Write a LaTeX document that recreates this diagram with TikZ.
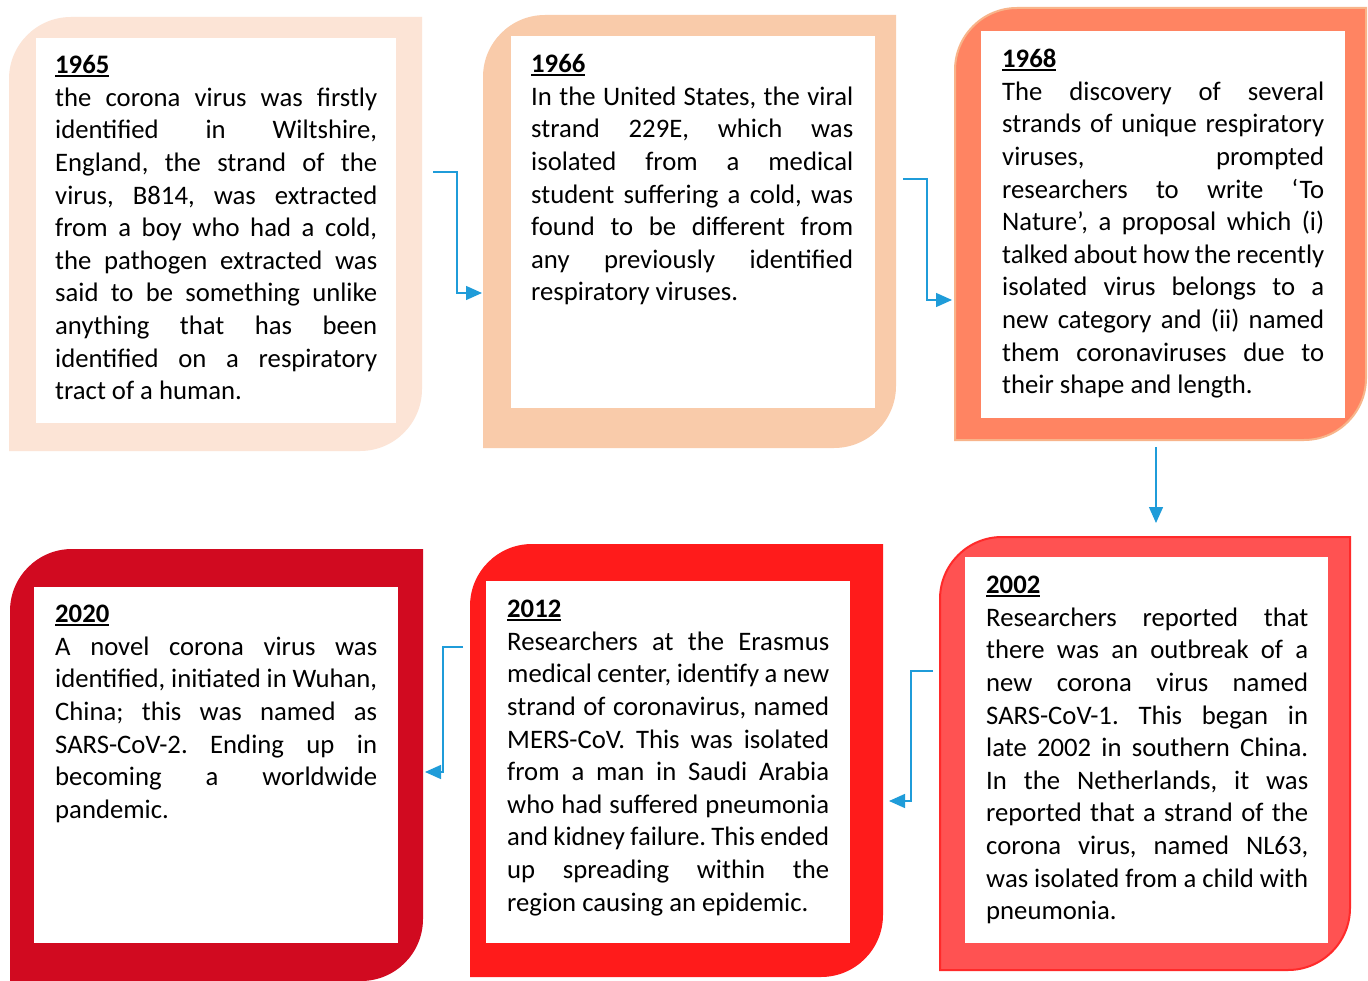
\documentclass[tikz,border=0pt]{standalone}
\usepackage{fontspec}
\setmainfont{Carlito}
\usetikzlibrary{arrows.meta}
\definecolor{cA}{HTML}{FCE4D6}
\definecolor{cB}{HTML}{F9CBAA}
\definecolor{cC}{HTML}{FF8462}
\definecolor{cCl}{HTML}{F8B48A}
\definecolor{cD}{HTML}{FF5252}
\definecolor{cDl}{HTML}{FF2A2A}
\definecolor{cE}{HTML}{FF1B1B}
\definecolor{cF}{HTML}{D10A20}
\definecolor{arrc}{HTML}{1F9CD9}
\newcommand\tlbox[5]{%
  \path[#5] (#1,#4) -- (#1,#2+62) arc[start angle=180,end angle=270,radius=62]
    -- (#3,#2) -- (#3,#4-62) arc[start angle=0,end angle=90,radius=62] -- cycle;}
\newcommand\jl[1]{\makebox[322pt][s]{#1}}
\newcommand\yr[1]{\setbox0\hbox{\bfseries #1}\rlap{\rule[-3.6pt]{\wd0}{1.8pt}}\box0}
\frenchspacing
\tikzset{
  txt/.style={anchor=north west, inner sep=0pt, align=left, font=\fontsize{26.7}{32.6}\selectfont\frenchspacing},
  arr/.style={draw=arrc, line width=1.4pt, -{Triangle[length=16pt,width=14pt]}},
  inner/.style={fill=white}
}
\begin{document}
\begin{tikzpicture}[x=1pt,y=-1pt]
\useasboundingbox[fill=white] (0,0) rectangle (1368,981);
% frames
\tlbox{9}{17}{422}{451}{fill=cA}
\fill[inner] (36,38) rectangle (396,423);
\tlbox{483}{15}{896}{448}{fill=cB}
\fill[inner] (511,36) rectangle (875,408);
\tlbox{955}{8}{1366}{440}{fill=cC, draw=cCl, line width=2pt}
\fill[inner] (981,31) rectangle (1345,418);
\tlbox{940}{537}{1350}{970}{fill=cD, draw=cDl, line width=2pt}
\fill[inner] (965,557) rectangle (1328,943);
\tlbox{470}{544}{883}{977}{fill=cE}
\fill[inner] (486,581) rectangle (850,943);
\tlbox{10}{549}{423}{981}{fill=cF}
\fill[inner] (34,587) rectangle (398,943);
% texts
\node[txt] (t1) at (55,50.6) {\strut\yr{1965}\\
\jl{the corona virus was firstly}\\
\jl{identified in Wiltshire,}\\
\jl{England, the strand of the}\\
\jl{virus, B814, was extracted}\\
\jl{from a boy who had a cold,}\\
\jl{the pathogen extracted was}\\
\jl{said to be something unlike}\\
\jl{anything that has been}\\
\jl{identified on a respiratory}\\
tract of a human.};
\node[txt] (t2) at (531,49.6) {\strut\yr{1966}\\
\jl{In the United States, the viral}\\
\jl{strand 229E, which was}\\
\jl{isolated from a medical}\\
\jl{student suffering a cold, was}\\
\jl{found to be different from}\\
\jl{any previously identified}\\
respiratory viruses.};
\node[txt] (t3) at (1002,44.6) {\strut\yr{1968}\\
\jl{The discovery of several}\\
\jl{strands of unique respiratory}\\
\jl{viruses, prompted}\\
\jl{researchers to write ‘To}\\
\jl{Nature’, a proposal which (i)}\\
\jl{talked about how the recently}\\
\jl{isolated virus belongs to a}\\
\jl{new category and (ii) named}\\
\jl{them coronaviruses due to}\\
their shape and length.};
\node[txt] (t4) at (986,570.6) {\strut\yr{2002}\\
\jl{Researchers reported that}\\
\jl{there was an outbreak of a}\\
\jl{new corona virus named}\\
\jl{SARS-CoV-1. This began in}\\
\jl{late 2002 in southern China.}\\
\jl{In the Netherlands, it was}\\
\jl{reported that a strand of the}\\
\jl{corona virus, named NL63,}\\
\jl{was isolated from a child with}\\
pneumonia.};
\node[txt] (t5) at (507,594.6) {\strut\yr{2012}\\
\jl{Researchers at the Erasmus}\\
\jl{medical center, identify a new}\\
\jl{strand of coronavirus, named}\\
\jl{MERS-CoV. This was isolated}\\
\jl{from a man in Saudi Arabia}\\
\jl{who had suffered pneumonia}\\
\jl{and kidney failure. This ended}\\
\jl{up spreading within the}\\
region causing an epidemic.};
\node[txt] (t6) at (55,599.6) {\strut\yr{2020}\\
\jl{A novel corona virus was}\\
\jl{identified, initiated in Wuhan,}\\
\jl{China; this was named as}\\
\jl{SARS-CoV-2. Ending up in}\\
\jl{becoming a worldwide}\\
pandemic.};
% connectors
\coordinate (a1s) at (433,172); \coordinate (a1e) at (482,293);
\coordinate (a2s) at (903,179); \coordinate (a2e) at (952,300);
\coordinate (a3s) at (1156,447); \coordinate (a3e) at (1156,523);
\coordinate (a4s) at (933,671); \coordinate (a4e) at (889,801);
\coordinate (a5s) at (463,647); \coordinate (a5e) at (425,772);
\draw[arr] (a1s) -- ++(24,0) |- (a1e);
\draw[arr] (a2s) -- ++(24,0) |- (a2e);
\draw[arr] (a3s) -- (a3e);
\draw[arr] (a4s) -- ++(-22,0) |- (a4e);
\draw[arr] (a5s) -- ++(-20,0) |- (a5e);
\end{tikzpicture}
\end{document}
